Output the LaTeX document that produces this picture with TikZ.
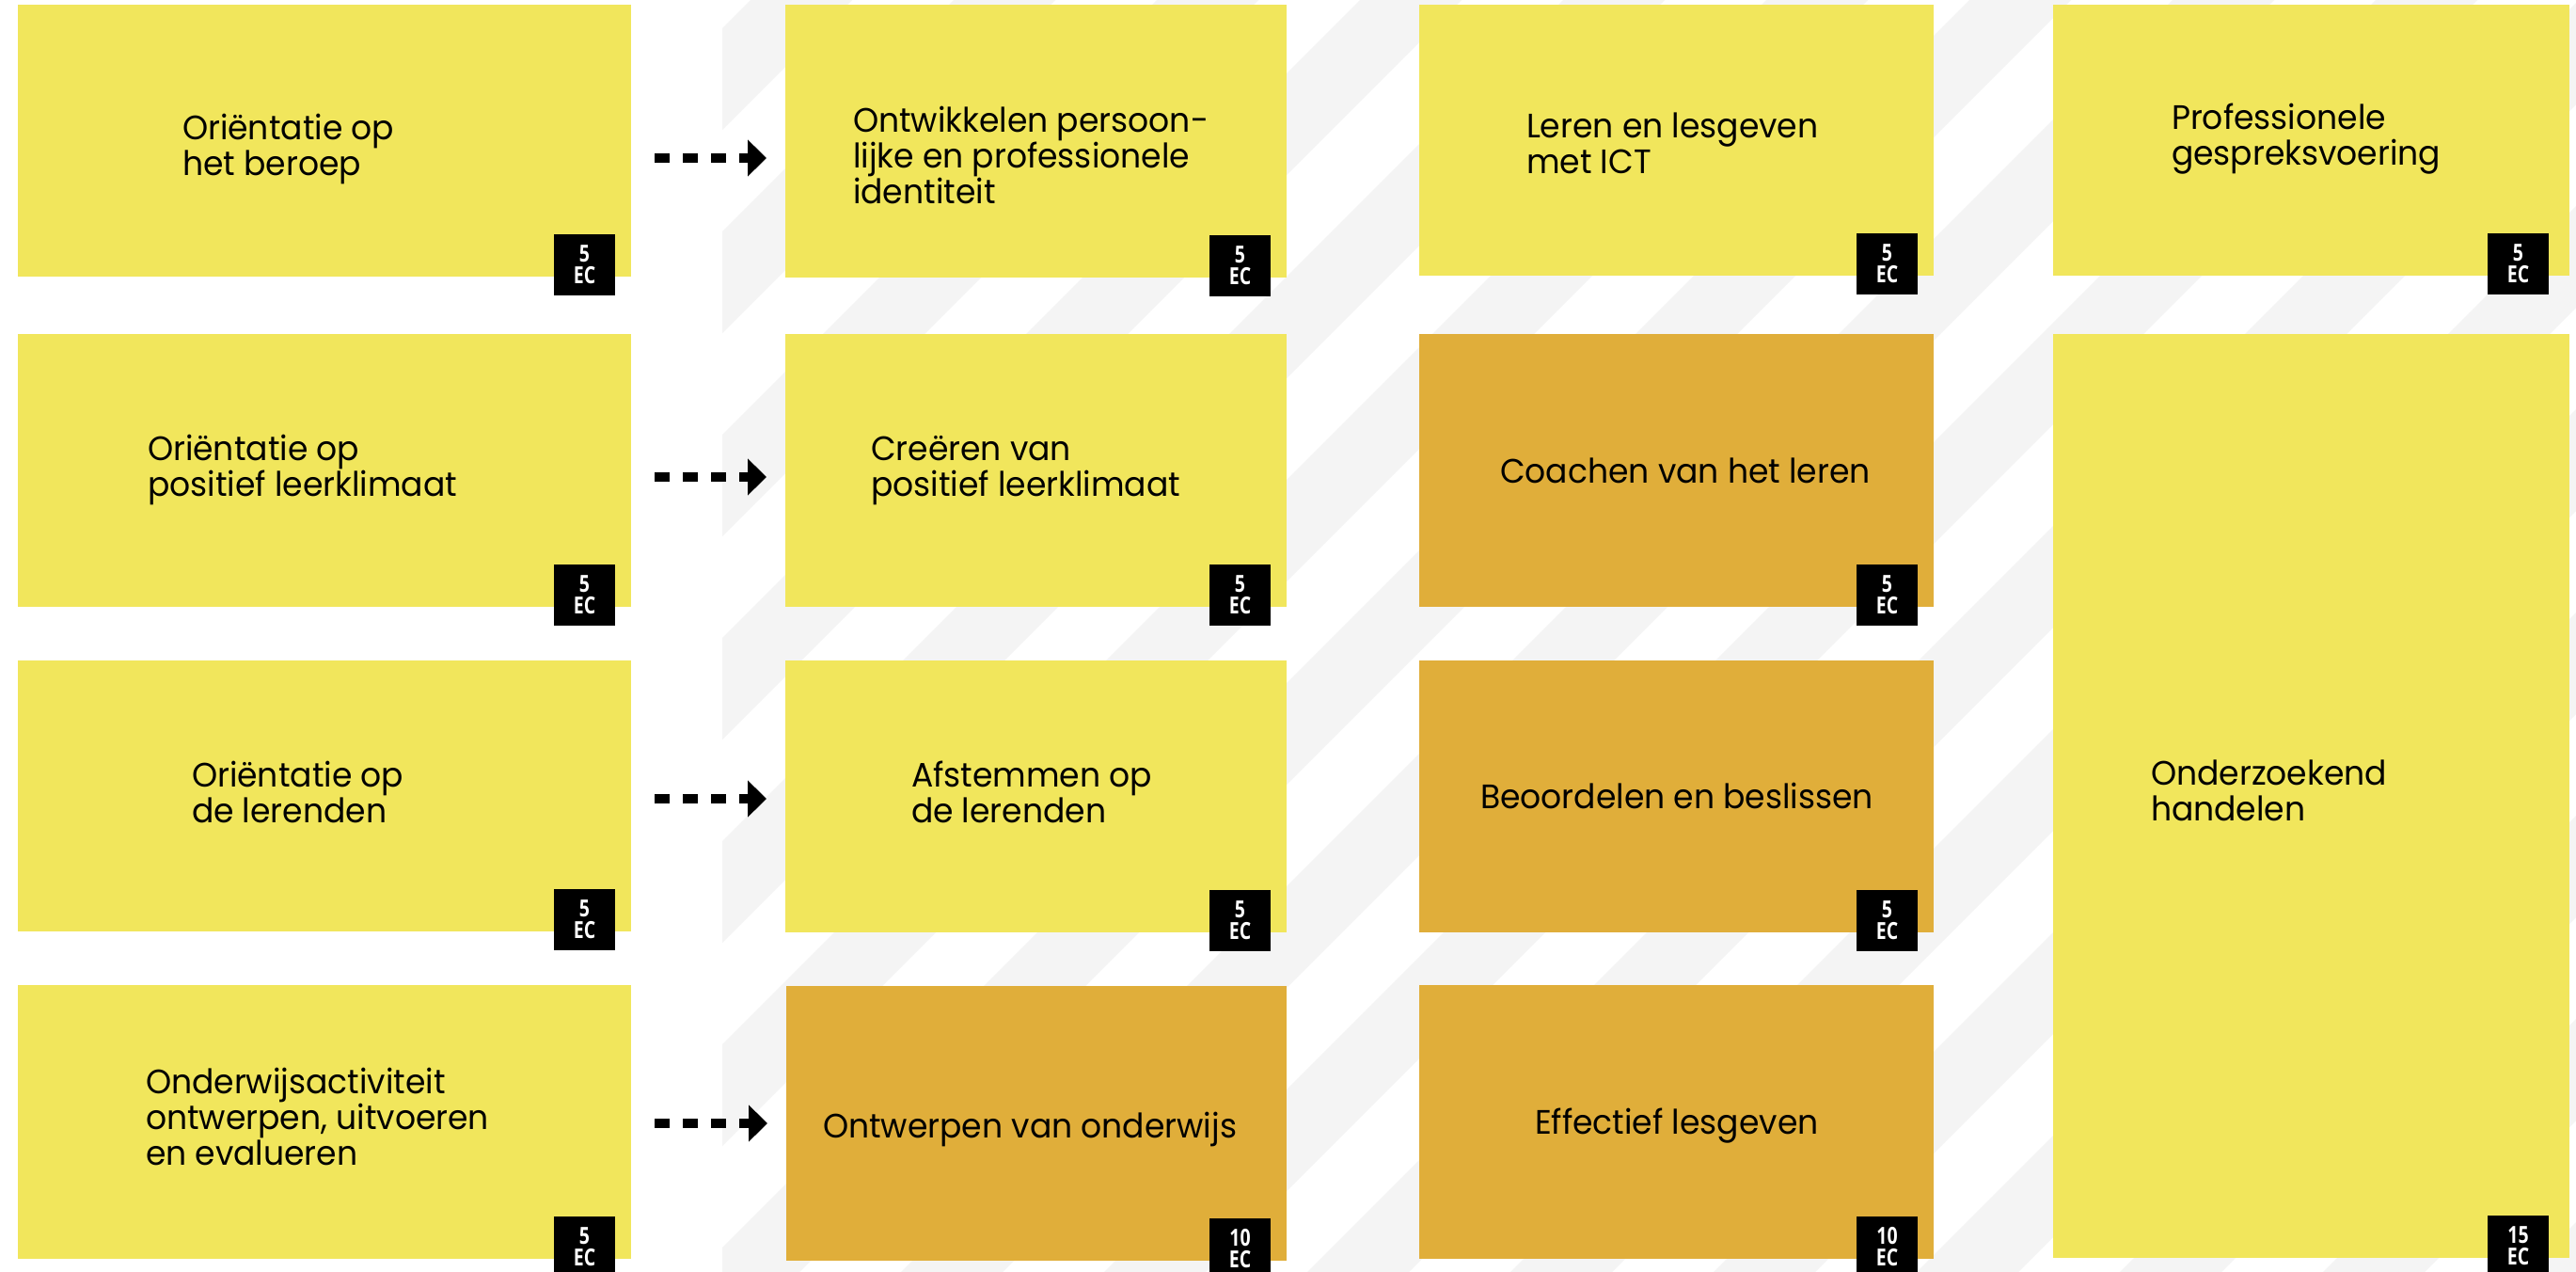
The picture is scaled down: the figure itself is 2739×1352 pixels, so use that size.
\documentclass[tikz,border=0pt]{standalone}
\usepackage{fontspec}
\setmainfont[FakeStretch=0.96]{Poppins}
\newfontfamily\badgefont[FakeStretch=0.78]{Open Sans}
\usetikzlibrary{arrows.meta}
\definecolor{cyel}{HTML}{F1E65C}
\definecolor{cgold}{HTML}{E0AE3A}
\definecolor{cstripe}{HTML}{F4F4F4}
\newcommand\mybox[6]{\node[boxst, fill=#6, minimum width={(#4-#2)*0.5pt}, minimum height={(#5-#3)*0.5pt}] (#1) at ({(#2+#4)/2},{(#3+#5)/2}) {};}
\newcommand\mybadge[4]{\node[badge] (#1) at ([xshift=-#4,yshift=22.5pt]#2.south east) {#3\\EC};}
\begin{document}
\begin{tikzpicture}[x=0.5pt,y=-0.5pt,
  boxst/.style={rectangle, inner sep=0pt, outer sep=0pt, draw=none},
  badge/.style={rectangle, fill=black, inner sep=0pt, outer sep=0pt, minimum width=32.5pt, minimum height=32.5pt, text=white, font=\badgefont\bfseries\fontsize{12.5pt}{11.5pt}\selectfont, align=center, anchor=north east},
  lbl/.style={anchor=west, align=left, inner sep=0pt, outer sep=0pt, font=\fontsize{18pt}{19pt}\selectfont, text height=12.6pt, text depth=0pt},
  flow/.style={line width=5pt, dash pattern=on 8pt off 7pt, -{Triangle[length=10pt,width=19pt]}, shorten <=12.5pt, shorten >=10pt}
]
\useasboundingbox (0,0) rectangle (2739,1352);
\fill[white] (0,0) rectangle (2739,1352);
% background stripes
\begin{scope}
\clip (768,0) rectangle (2739,1352);
\foreach \k in {-2,...,14}{
  \pgfmathsetmacro\ua{1014+216*\k}
  \pgfmathsetmacro\ub{\ua+108}
  \fill[cstripe] (\ua,0) -- (\ub,0) -- ({\ub-1352},1352) -- ({\ua-1352},1352) -- cycle;
}
\end{scope}
% boxes
\mybox{c11}{19}{5}{671}{294}{cyel}
\mybox{c12}{19}{355}{671}{645}{cyel}
\mybox{c13}{19}{702}{671}{990}{cyel}
\mybox{c14}{19}{1047}{671}{1338}{cyel}
\mybox{c21}{835}{5}{1368}{295}{cyel}
\mybox{c22}{835}{355}{1368}{645}{cyel}
\mybox{c23}{835}{702}{1368}{991}{cyel}
\mybox{c24}{836}{1048}{1368}{1340}{cgold}
\mybox{c31}{1509}{5}{2056}{293}{cyel}
\mybox{c32}{1509}{355}{2056}{645}{cgold}
\mybox{c33}{1509}{702}{2056}{991}{cgold}
\mybox{c34}{1509}{1047}{2056}{1338}{cgold}
\mybox{c41}{2183}{5}{2732}{293}{cyel}
\mybox{c42}{2183}{355}{2732}{1337}{cyel}
% labels (y = centre of the last line)
\node[lbl] (t11) at (194,174) {Oriëntatie op\\het beroep};
\node[lbl] (t12) at (157,515) {Oriëntatie op\\positief leerklimaat};
\node[lbl] (t13) at (204,862) {Oriëntatie op\\de lerenden};
\node[lbl] (t14) at (155,1226) {Onderwijsactiviteit\\ontwerpen, uitvoeren\\en evalueren};
\node[lbl] (t21) at (907,204) {Ontwikkelen persoon-\\lijke en professionele\\identiteit};
\node[lbl] (t22) at (926,515) {Creëren van\\positief leerklimaat};
\node[lbl] (t23) at (969,862) {Afstemmen op\\de lerenden};
\node[lbl] (t24) at (875,1197) {Ontwerpen van onderwijs};
\node[lbl] (t31) at (1623,172) {Leren en lesgeven\\met ICT};
\node[lbl] (t32) at (1595,501) {Coachen van het leren};
\node[lbl] (t33) at (1574,847) {Beoordelen en beslissen};
\node[lbl] (t34) at (1632,1193) {Effectief lesgeven};
\node[lbl] (t41) at (2309,163) {Professionele\\gespreksvoering};
\node[lbl] (t42) at (2287,860) {Onderzoekend\\handelen};
% badges
\mybadge{b11}{c11}{5}{8.5pt}
\mybadge{b12}{c12}{5}{8.5pt}
\mybadge{b13}{c13}{5}{8.5pt}
\mybadge{b14}{c14}{5}{8.5pt}
\mybadge{b21}{c21}{5}{8.5pt}
\mybadge{b22}{c22}{5}{8.5pt}
\mybadge{b23}{c23}{5}{8.5pt}
\mybadge{b24}{c24}{10}{8.5pt}
\mybadge{b31}{c31}{5}{8.5pt}
\mybadge{b32}{c32}{5}{8.5pt}
\mybadge{b33}{c33}{5}{8.5pt}
\mybadge{b34}{c34}{10}{8.5pt}
\mybadge{b41}{c41}{5}{11pt}
\mybadge{b42}{c42}{15}{11pt}
% arrows
\coordinate (ay1) at (0,168);
\coordinate (ay2) at (0,507);
\coordinate (ay3) at (0,849);
\coordinate (ay4) at (0,1194);
\draw[flow] (c11.east |- ay1) -- (c21.west |- ay1);
\draw[flow] (c12.east |- ay2) -- (c22.west |- ay2);
\draw[flow] (c13.east |- ay3) -- (c23.west |- ay3);
\draw[flow] (c14.east |- ay4) -- (c24.west |- ay4);
\end{tikzpicture}
\end{document}
